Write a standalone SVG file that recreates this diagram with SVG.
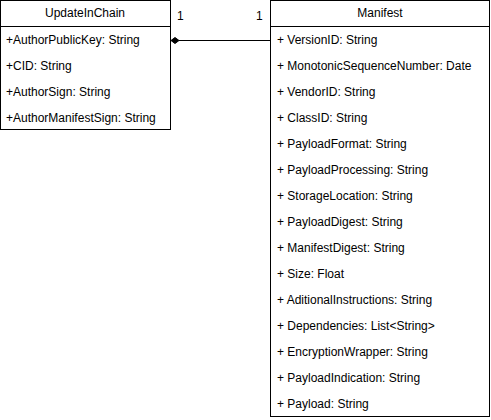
<svg xmlns="http://www.w3.org/2000/svg" width="491" height="420" viewBox="0 0 491 420">
<style>
.box{fill:#fff;stroke:#000;stroke-width:1}
.sep{stroke:#000;stroke-width:1}
text{font-family:"Liberation Sans",Arial,sans-serif;font-size:12px;fill:#000}
.h{text-anchor:middle}
</style>
<rect width="491" height="420" fill="#fff"/>
<g id="UpdateInChain">
<rect class="box" x="0.5" y="0.5" width="170" height="129"/>
<line class="sep" x1="0.5" y1="26.5" x2="170.5" y2="26.5"/>
<text class="h" x="85" y="17">UpdateInChain</text>
<text x="6" y="44">+AuthorPublicKey: String</text>
<text x="6" y="70">+CID: String</text>
<text x="6" y="96">+AuthorSign: String</text>
<text x="6" y="122">+AuthorManifestSign: String</text>
</g>
<g id="Manifest">
<rect class="box" x="270.5" y="0.5" width="219" height="416"/>
<line class="sep" x1="270.5" y1="26.5" x2="489.5" y2="26.5"/>
<text class="h" x="380" y="17">Manifest</text>
<text x="277" y="44">+ VersionID: String</text>
<text x="277" y="70">+ MonotonicSequenceNumber: Date</text>
<text x="277" y="96">+ VendorID: String</text>
<text x="277" y="122">+ ClassID: String</text>
<text x="277" y="148">+ PayloadFormat: String</text>
<text x="277" y="174">+ PayloadProcessing: String</text>
<text x="277" y="200">+ StorageLocation: String</text>
<text x="277" y="226">+ PayloadDigest: String</text>
<text x="277" y="252">+ ManifestDigest: String</text>
<text x="277" y="278">+ Size: Float</text>
<text x="277" y="304">+ AditionalInstructions: String</text>
<text x="277" y="330">+ Dependencies: List&lt;String&gt;</text>
<text x="277" y="356">+ EncryptionWrapper: String</text>
<text x="277" y="382">+ PayloadIndication: String</text>
<text x="277" y="408">+ Payload: String</text>
</g>
<g id="connectors">
<line x1="179" y1="40.5" x2="270.5" y2="40.5" stroke="#000" stroke-width="1"/>
<polygon points="171,40.5 175,37.5 179,40.5 175,43.5" fill="#000" stroke="#000" stroke-width="1"/>
<text x="177" y="20">1</text>
<text x="256" y="20">1</text>
</g>
</svg>
